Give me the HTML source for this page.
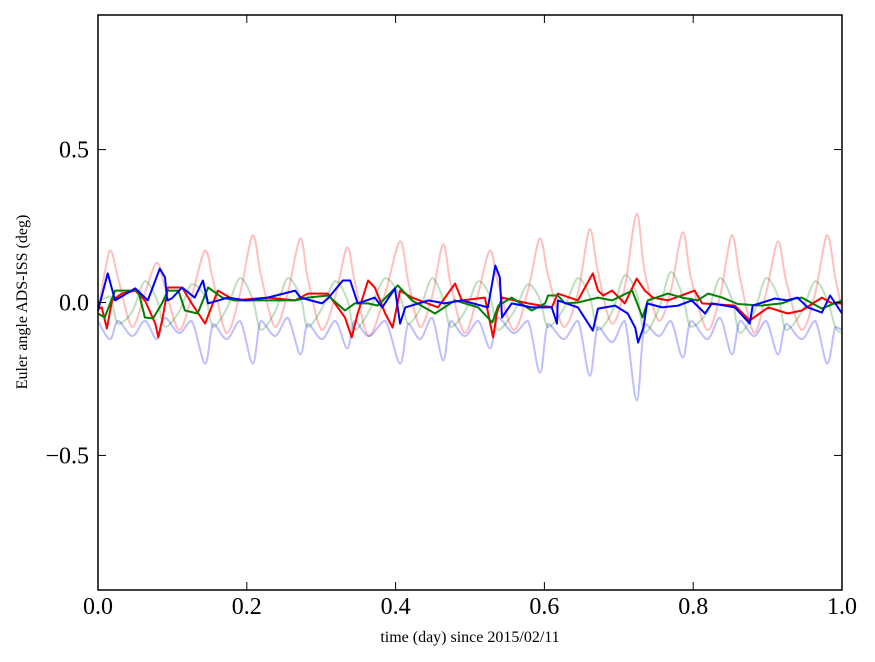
<!DOCTYPE html>
<html><head><meta charset="utf-8">
<style>
html,body{margin:0;padding:0;background:#fff;}
svg{display:block;font-family:"Liberation Serif","DejaVu Serif",serif;}
</style></head>
<body>
<svg id="chart" width="875" height="662" viewBox="0 0 875 662" xmlns="http://www.w3.org/2000/svg">
  <rect x="0" y="0" width="875" height="662" fill="#fff"/>
  <g id="series"></g>
  <rect x="98" y="15" width="744" height="575" fill="none" stroke="#000" stroke-width="1.5"/>
  <g id="ticks"></g>
  <text x="470" y="642" font-size="16" text-anchor="middle">time (day) since 2015/02/11</text>
  <text x="27" y="302" font-size="16" text-anchor="middle" transform="rotate(-90 27 302)">Euler angle ADS-ISS (deg)</text>
</svg>
<script>
const xTicks = [0, 0.2, 0.4, 0.6, 0.8, 1.0];
const xTickLabels = ["0.0", "0.2", "0.4", "0.6", "0.8", "1.0"];
const yTicks = [-0.5, 0, 0.5];
const yTickLabels = ["\u22120.5", "0.0", "0.5"];

const gridT = [0,0.016,0.027,0.046,0.063,0.079,0.090,0.109,0.126,0.144,0.155,0.173,0.191,0.208,0.219,0.238,0.255,0.272,0.282,0.301,0.319,0.335,0.345,0.364,0.386,0.406,0.417,0.433,0.449,0.464,0.474,0.493,0.511,0.527,0.538,0.559,0.578,0.594,0.605,0.626,0.645,0.661,0.672,0.691,0.708,0.724,0.735,0.754,0.770,0.786,0.797,0.819,0.836,0.852,0.863,0.882,0.898,0.914,0.925,0.946,0.964,0.980,0.991,1.0];
const pinkV = [-0.03, 0.17,0.08,-0.08,0.03, 0.13,0.05,-0.09,0.02, 0.17,0.07,-0.10,0.03, 0.22,0.09,-0.08,0.03, 0.21,0.08,-0.09,0.02, 0.18,0.07,-0.11,0.03, 0.20,0.07,-0.08,0.02, 0.19,0.06,-0.10,0.03, 0.17,0.06,-0.09,0.04, 0.21,0.09,-0.08,0.03, 0.24,0.10,-0.07,0.05, 0.29,0.10,-0.06,0.04, 0.23,0.08,-0.09,0.02, 0.22,0.08,-0.10,0.03, 0.20,0.07,-0.09,0.03, 0.22,0.08,-0.02];
const lightBlueV = [-0.06, -0.12,-0.06,-0.11,-0.06, -0.12,-0.05,-0.10,-0.06, -0.20,-0.07,-0.12,-0.06, -0.20,-0.06,-0.11,-0.05, -0.17,-0.07,-0.12,-0.06, -0.15,-0.06,-0.11,-0.06, -0.20,-0.07,-0.12,-0.05, -0.19,-0.06,-0.11,-0.06, -0.15,-0.05,-0.10,-0.06, -0.23,-0.07,-0.12,-0.06, -0.24,-0.08,-0.13,-0.06, -0.32,-0.07,-0.11,-0.06, -0.18,-0.06,-0.12,-0.05, -0.17,-0.06,-0.11,-0.06, -0.17,-0.07,-0.12,-0.06, -0.20,-0.08,-0.09];
const lightGreenV = [0.0, 0.02,-0.07,-0.03,0.07, 0.01,-0.08,-0.03,0.06, 0.02,-0.08,-0.02,0.08, 0.01,-0.09,-0.03,0.08, 0.02,-0.08,-0.02,0.07, 0.01,-0.09,-0.03,0.08, 0.02,-0.07,-0.02,0.08, 0.01,-0.08,-0.03,0.07, 0.02,-0.09,-0.03,0.06, 0.01,-0.08,-0.02,0.08, 0.02,-0.09,-0.03,0.09, 0.03,-0.10,-0.02,0.10, 0.02,-0.08,-0.03,0.08, 0.01,-0.10,-0.03,0.08, 0.02,-0.09,-0.03,0.07, 0.01,-0.08,-0.10];

const blueT = [0,.013,.023,.050,.067,.083,.090,.093,.099,.113,.130,.141,.148,.175,.198,.228,.265,.272,.301,.309,.329,.339,.349,.372,.382,.399,.406,.413,.444,.466,.489,.524,.534,.540,.543,.556,.583,.610,.617,.618,.645,.665,.672,.695,.712,.722,.726,.733,.738,.758,.780,.798,.816,.825,.856,.876,.880,.910,.926,.940,.954,.973,.984,1.0];
const blueV = [-0.026,0.095,0.007,0.046,0.007,0.111,0.082,0.007,0.013,0.049,0.016,0.072,-0.003,0.016,0.007,0.016,0.039,0.016,-0.003,0.013,0.072,0.072,-0.003,0.016,-0.016,0.046,-0.069,-0.016,0.007,-0.003,0.007,-0.016,0.121,0.082,-0.049,-0.003,-0.016,-0.016,-0.069,0.007,-0.016,-0.092,-0.020,-0.010,-0.036,-0.082,-0.131,-0.082,-0.003,-0.016,-0.010,0.007,-0.036,-0.003,-0.016,-0.069,-0.010,0.013,0.007,0.016,-0.016,-0.033,0.023,-0.036];
const redT = [0,.005,.012,.019,.032,.050,.063,.077,.081,.087,.094,.113,.126,.144,.161,.184,.228,.265,.282,.309,.332,.341,.349,.363,.372,.386,.396,.406,.422,.457,.480,.489,.520,.531,.536,.543,.578,.610,.618,.645,.665,.672,.679,.691,.708,.724,.735,.746,.766,.802,.812,.856,.876,.901,.927,.946,.973,.987,1.0];
const redV = [-0.02,-0.016,-0.085,0.007,0.029,0.039,0.007,-0.069,-0.114,-0.049,0.049,0.049,-0.003,-0.069,0.039,0.007,0.016,0.007,0.029,0.029,-0.049,-0.114,-0.036,0.072,0.049,-0.036,-0.082,0.039,0.016,-0.016,0.062,0.007,0.016,-0.114,-0.036,0.016,-0.003,-0.016,0.029,0.007,0.095,0.039,0.023,0.039,-0.003,0.078,0.039,0.016,0.007,0.039,-0.003,-0.010,-0.059,-0.016,-0.036,-0.026,0.016,-0.003,-0.003];
const greenT = [0,.009,.023,.040,.054,.063,.074,.086,.094,.108,.117,.134,.148,.167,.184,.220,.265,.282,.309,.332,.345,.363,.376,.403,.422,.453,.480,.511,.530,.538,.556,.583,.601,.605,.618,.628,.645,.672,.691,.718,.732,.739,.766,.785,.806,.820,.839,.860,.892,.919,.937,.946,.973,1.0];
const greenV = [-0.036,-0.049,0.039,0.039,0.039,-0.049,-0.052,-0.003,0.039,0.039,-0.026,-0.036,0.049,0.016,0.007,0.007,0.007,0.016,0.023,-0.026,-0.003,-0.003,-0.010,0.056,0.007,-0.036,0.007,-0.016,-0.065,-0.010,0.016,-0.026,-0.003,0.023,0.023,-0.003,0.0,0.016,0.007,0.039,-0.049,0.007,0.029,0.016,0.007,0.029,0.016,-0.005,-0.010,-0.003,0.013,0.016,-0.020,0.007];

const X0 = 98, X1 = 842, Y0 = 590, Y1 = 15, YMIN = -0.94, YMAX = 0.94;
function xScale(t){ return X0 + (t - 0) / (1 - 0) * (X1 - X0); }
function yScale(v){ return Y0 - (v - YMIN) / (YMAX - YMIN) * (Y0 - Y1); }
const NS = "http://www.w3.org/2000/svg";
const seriesG = document.getElementById("series");
const ticksG = document.getElementById("ticks");

function drawLine(ts, vs, color, opacity, name, smooth){
  const n = Math.min(ts.length, vs.length);
  const pts = [];
  for (let i = 0; i < n; i++) pts.push([xScale(ts[i]), yScale(vs[i])]);
  let d = "M" + pts[0][0].toFixed(1) + " " + pts[0][1].toFixed(1);
  for (let i = 1; i < n; i++){
    if (smooth){
      const p0 = pts[Math.max(0, i - 2)], p1 = pts[i - 1], p2 = pts[i], p3 = pts[Math.min(n - 1, i + 1)];
      const k = 1/6;
      let c1y = p1[1] + (p2[1] - p0[1]) * k, c2y = p2[1] - (p3[1] - p1[1]) * k;
      const lo = Math.min(p1[1], p2[1]), hi = Math.max(p1[1], p2[1]);
      c1y = Math.max(lo, Math.min(hi, c1y)); c2y = Math.max(lo, Math.min(hi, c2y));
      d += "C" + (p1[0] + (p2[0] - p0[0]) * k).toFixed(1) + " " + c1y.toFixed(1) + " " +
           (p2[0] - (p3[0] - p1[0]) * k).toFixed(1) + " " + c2y.toFixed(1) + " " +
           p2[0].toFixed(1) + " " + p2[1].toFixed(1);
    } else {
      d += "L" + pts[i][0].toFixed(1) + " " + pts[i][1].toFixed(1);
    }
  }
  const p = document.createElementNS(NS, "path");
  p.setAttribute("d", d);
  p.setAttribute("fill", "none");
  p.setAttribute("stroke", color);
  p.setAttribute("stroke-opacity", opacity);
  p.setAttribute("stroke-width", "2");
  p.setAttribute("stroke-linejoin", "round");
  
  
  seriesG.appendChild(p);
}
drawLine(gridT, pinkV, "#ff0000", 0.25, "light-red-series", true);
drawLine(gridT, lightGreenV, "#008000", 0.25, "light-green-series", true);
drawLine(gridT, lightBlueV, "#0000ff", 0.25, "light-blue-series", true);
drawLine(redT, redV, "#ff0000", 1, "red-series", false);
drawLine(greenT, greenV, "#008000", 1, "green-series", false);
drawLine(blueT, blueV, "#0000ff", 1, "blue-series", false);

function tickLine(x1,y1,x2,y2,name){
  const l = document.createElementNS(NS, "line");
  l.setAttribute("x1", x1); l.setAttribute("y1", y1); l.setAttribute("x2", x2); l.setAttribute("y2", y2);
  l.setAttribute("stroke", "#000"); l.setAttribute("stroke-width", "1");
  
  
  ticksG.appendChild(l);
}
function label(x,y,txt,anchor,name){
  const t = document.createElementNS(NS, "text");
  t.setAttribute("x", x); t.setAttribute("y", y);
  t.setAttribute("font-size", "24");
  t.setAttribute("text-anchor", anchor);
  t.textContent = txt;
  
  
  ticksG.appendChild(t);
}
xTicks.forEach((v, i) => {
  const x = xScale(v);
  tickLine(x, Y0, x, Y0 - 8, "x-tick");
  tickLine(x, Y1, x, Y1 + 8, "x-tick-top");
  label(x, 614, xTickLabels[i], "middle", "x-tick-label");
});
yTicks.forEach((v, i) => {
  const y = yScale(v);
  tickLine(X0, y, X0 + 8, y, "y-tick");
  tickLine(X1, y, X1 - 8, y, "y-tick-right");
  label(89, y + 8, yTickLabels[i], "end", "y-tick-label");
});
</script>
</body></html>
